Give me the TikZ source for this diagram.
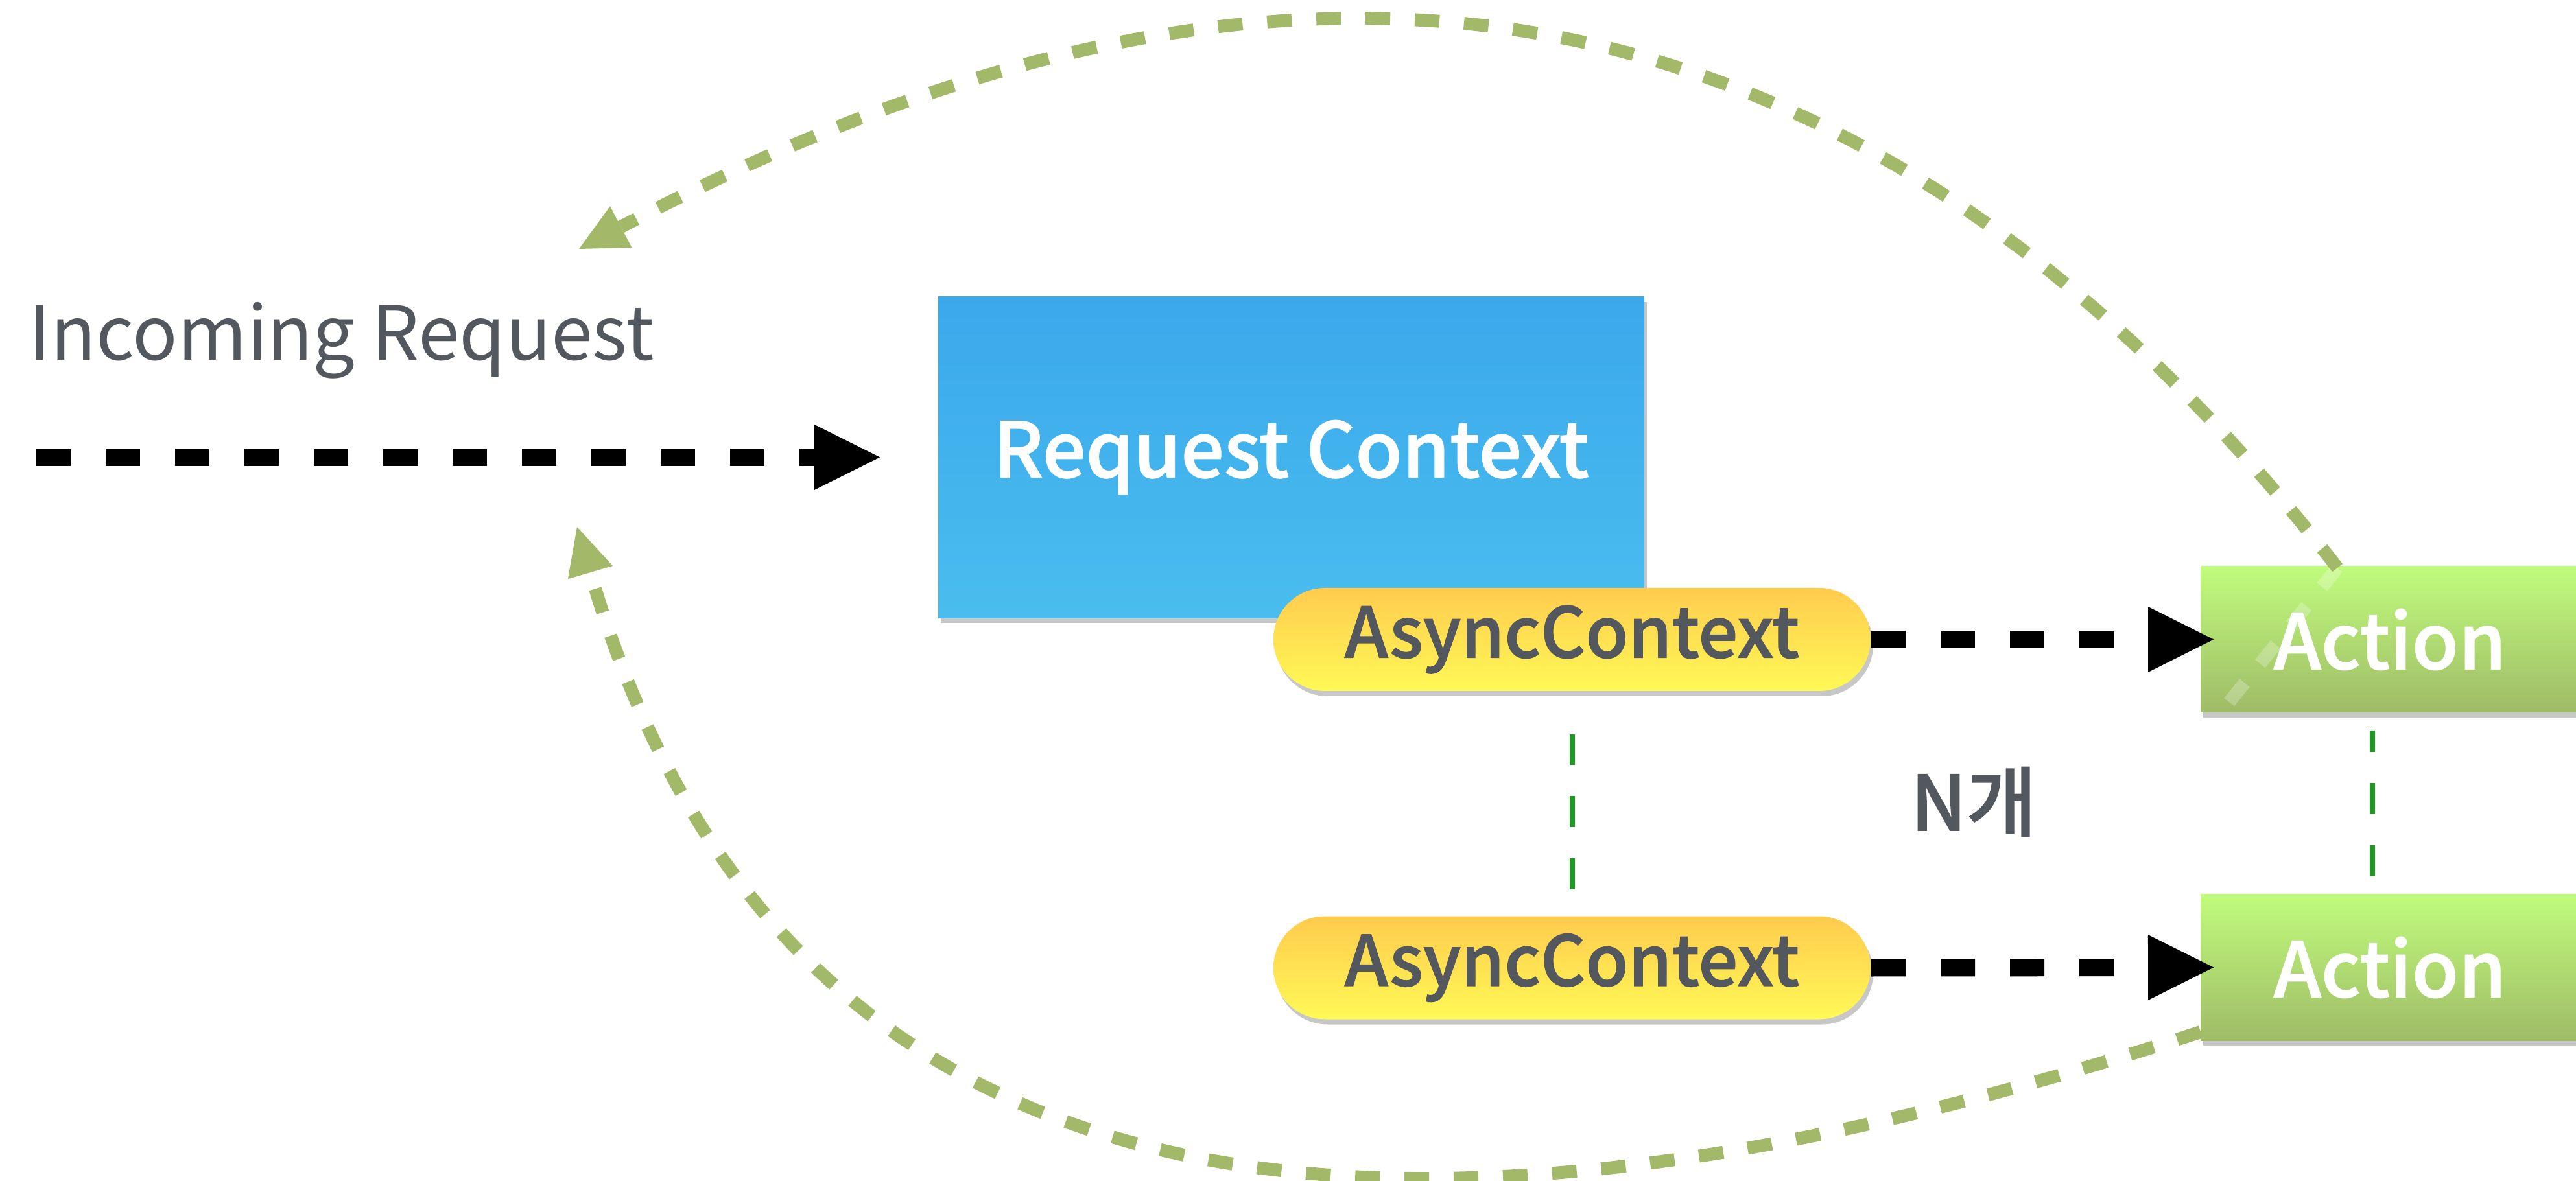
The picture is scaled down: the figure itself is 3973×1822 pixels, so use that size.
\documentclass[tikz,border=0pt]{standalone}
\usepackage{fontspec}
\setmainfont{Noto Sans CJK KR}
\newfontfamily\medfont{Noto Sans CJK KR Medium}[FakeBold=1.2]
\usetikzlibrary{arrows.meta,shadows}

\definecolor{rcTop}{HTML}{3BA8EC}
\definecolor{rcBot}{HTML}{4ABDEE}
\definecolor{acTop}{HTML}{FFCB4E}
\definecolor{acBot}{HTML}{FFF956}
\definecolor{actTop}{HTML}{C0FC7C}
\definecolor{actBot}{HTML}{9FBB67}
\definecolor{loopgreen}{HTML}{A3B96A}
\definecolor{linkgreen}{HTML}{1E9A24}
\definecolor{ink}{HTML}{53575E}

\tikzset{
  softshadow/.style={drop shadow={shadow xshift=0.8pt, shadow yshift=-1.6pt, fill=black, opacity=0.22}},
  rcbox/.style={rectangle, inner sep=0pt, minimum width=217.8pt, minimum height=99pt,
    top color=rcTop, bottom color=rcBot, draw=none, softshadow,
    text=white, font=\medfont\fontsize{23.5}{28}\selectfont},
  pill/.style={rectangle, rounded corners=15.9pt, inner sep=0pt, minimum width=184.2pt,
    minimum height=31.8pt, top color=acTop, bottom color=acBot, draw=none, softshadow,
    text=ink, font=\medfont\fontsize{21.5}{26}\selectfont},
  actbox/.style={rectangle, inner sep=0pt, minimum width=116.8pt, minimum height=45pt,
    top color=actTop, bottom color=actBot, draw=none, softshadow,
    text=white, font=\medfont\fontsize{23.5}{28}\selectfont},
  flow/.style={line width=5.4pt, black, dash pattern=on 10.6pt off 10.8pt,
    -{Triangle[length=20.2pt, width=20.2pt, line width=0pt]}},
  loopback/.style={line width=4pt, loopgreen, dash pattern=on 7.6pt off 7.6pt,
    -{Triangle[length=14.6pt, width=14.4pt, line width=0pt]}},
  fadeback/.style={line width=4pt, white, opacity=0.25, dash pattern=on 7.6pt off 7.6pt},
  pairlink/.style={line width=1.6pt, linkgreen, dash pattern=on 9.6pt off 9.6pt},
  plainlabel/.style={inner sep=0pt, text=ink}
}

\begin{document}
\begin{tikzpicture}[x=0.2pt, y=-0.2pt]
  \useasboundingbox[fill=white] (0,0) rectangle (3973,1822);

  % label and entry point
  \node[plainlabel, anchor=base west, font=\fontsize{23}{28}\selectfont] (inc) at (44,556) {Incoming Request};
  \coordinate (entry) at (56,705.5);

  % main boxes
  \node[rcbox] (rc) at (1991.5,705.5) {Request Context};
  \node[pill] (ac1) at (2424.5,986.5) {AsyncContext};
  \node[pill] (ac2) at (2424.5,1493) {AsyncContext};
  \node[actbox] (a1) at (3686,986.5) {Action};
  \node[actbox] (a2) at (3686,1492.5) {Action};
  \node[plainlabel, font=\medfont\fontsize{23.5}{28}\selectfont] (count) at (3044,1237) {N개};

  % incoming request and dispatch arrows
  \draw[flow, shorten >=17.8pt] (entry) -- (rc.west);
  \draw[flow, shorten >=-4.2pt] (ac1.east) -- (a1.west);
  \draw[flow, shorten >=-4.2pt] (ac2.east) -- (a2.west);

  % pairing links
  \draw[pairlink, shorten <=8pt, shorten >=13.2pt] (ac2.north) -- (ac1.south);
  \draw[pairlink, shorten <=5.4pt, shorten >=5.4pt] ([xshift=-5.4pt]a2.north) -- ([xshift=-5.4pt]a1.south);

  % responses returning to the client
  \coordinate (topstart) at (3605,876);
  \coordinate (topend) at (893,384);
  \coordinate (fadeend) at (3360,1180);
  \coordinate (botstart) at (3394,1592);
  \coordinate (botend) at (890,813);
  \draw[fadeback] (topstart) -- (fadeend);
  \draw[loopback] (topstart) .. controls (2745,-230) and (1779,-80) .. (topend);
  \draw[loopback] (botstart) .. controls (1969,2057) and (1177,1797) .. (botend);
\end{tikzpicture}
\end{document}
